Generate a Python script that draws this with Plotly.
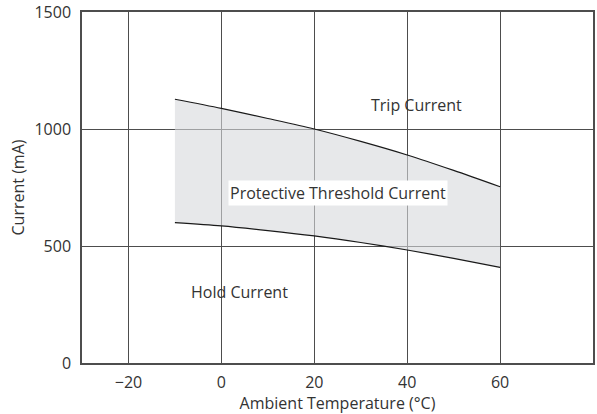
import plotly.graph_objects as go

temps = [-10, 0, 10, 20, 30, 40, 50, 60]
trip_current = [1127, 1088, 1045, 1000, 947, 889, 823, 753]
hold_current = [600, 586, 566, 543, 515, 483, 447, 409]

x_ticks = [-20, 0, 20, 40, 60]
y_ticks = [0, 500, 1000, 1500]

FONT = "Open Sans"
TXT = "#333333"
GRID = "#4d4d4d"
FS = 16

fig = go.Figure()
fig.add_trace(go.Scatter(x=temps, y=hold_current, mode="lines",
                         line=dict(color="#1a1a1a", width=1.2, shape="spline", smoothing=0.8),
                         showlegend=False, hoverinfo="skip"))
fig.add_trace(go.Scatter(x=temps, y=trip_current, mode="lines",
                         line=dict(color="#1a1a1a", width=1.2, shape="spline", smoothing=0.8),
                         fill="tonexty", fillcolor="rgba(215,217,220,0.6)",
                         showlegend=False, hoverinfo="skip"))

fig.add_annotation(x=42, y=1103, text="Trip Current", showarrow=False,
                   font=dict(family=FONT, size=FS, color=TXT))
fig.add_annotation(x=25, y=726, text="Protective Threshold Current", showarrow=False,
                   font=dict(family=FONT, size=FS, color=TXT), bgcolor="white", borderpad=1)
fig.add_annotation(x=4, y=303, text="Hold Current", showarrow=False,
                   font=dict(family=FONT, size=FS, color=TXT))

fig.update_layout(
    width=597, height=414,
    margin=dict(l=82, r=4, t=12, b=51),
    paper_bgcolor="white", plot_bgcolor="white",
    font=dict(family=FONT, size=FS, color=TXT),
    xaxis=dict(range=[-30, 80], tickvals=x_ticks, showgrid=True, gridcolor=GRID, gridwidth=1,
               showline=True, linecolor=GRID, linewidth=1.5, mirror=True, zeroline=False,
               automargin=False, ticks="", ticklabelstandoff=4,
               title=dict(text="Ambient Temperature (°C)", standoff=2,
                          font=dict(size=FS, color=TXT))),
    yaxis=dict(range=[0, 1500], tickvals=y_ticks, showgrid=True, gridcolor=GRID, gridwidth=1,
               showline=True, linecolor=GRID, linewidth=1.5, mirror=True, zeroline=False,
               automargin=False, ticks="", ticklabelstandoff=6,
               title=dict(text="Current (mA)", standoff=6,
                          font=dict(size=FS, color=TXT))),
)

fig.write_html("out.html", config={"displayModeBar": False},
               post_script="document.body.style.margin='0';document.body.style.overflow='hidden';")
